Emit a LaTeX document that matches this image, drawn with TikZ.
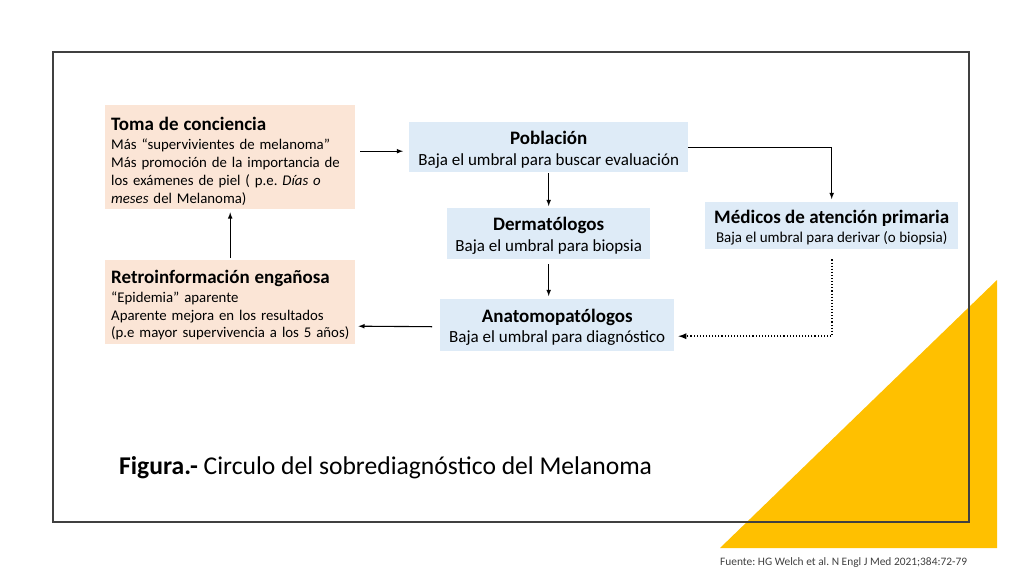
\documentclass[tikz,border=0pt]{standalone}
\usepackage{fontspec}
\setmainfont{Carlito}
\definecolor{peach}{HTML}{FBE5D6}
\definecolor{paleblue}{HTML}{DEEBF7}
\definecolor{gold}{HTML}{FFC000}
\definecolor{framegray}{HTML}{404040}
\newcommand{\tit}[2][18pt]{{\fontsize{19}{21}\selectfont\bfseries\rule{0pt}{#1}#2}}
\frenchspacing

\begin{document}
\begin{tikzpicture}[x=1pt, y=-1pt, >=latex,
	peachbox/.style={fill=peach, anchor=north west, inner xsep=6pt, align=left, font=\fontsize{14.8}{18}\selectfont},
	bluebox/.style={fill=paleblue, anchor=north west, align=center, font=\fontsize{17}{21}\selectfont},
	arr/.style={->, line width=1.1pt}]
		\useasboundingbox (0,0) rectangle (1024,576);
		\fill[gold] (997,280) -- (997,548) -- (720,548) -- cycle;
		\draw[framegray, line width=1.3pt] (53,52) rectangle (969,522);
		% cajas
		\node[peachbox, text width=238, minimum height=104] (toma) at (105,105)
			{\tit[21pt]{Toma de conciencia}\\[1pt]
			M\'as ``supervivientes de melanoma''\\
			M\'as promoci\'on de la importancia de\\
			los ex\'amenes de piel ( p.e. \textit{D\'ias o}\\
			\textit{meses} del Melanoma)};
		\node[peachbox, text width=238, minimum height=84, font=\fontsize{14.8}{17.5}\selectfont] (retro) at (105,260)
			{\tit[19pt]{Retroinformaci\'on enga\~nosa}\\[2pt]
			``Epidemia'' aparente\\
			Aparente mejora en los resultados\\
			(p.e mayor supervivencia a los 5 a\~nos)};
		\node[bluebox, minimum width=279, minimum height=50] (pob) at (409,122)
			{\tit{Poblaci\'on}\\
			Baja el umbral para buscar evaluaci\'on};
		\node[bluebox, minimum width=203, minimum height=51] (derm) at (447,208)
			{\tit{Dermat\'ologos}\\
			Baja el umbral para biopsia};
		\node[bluebox, minimum width=234, minimum height=52, font=\fontsize{17}{20}\selectfont] (anat) at (440,299)
			{\tit{Anatomopat\'ologos}\\
			Baja el umbral para diagn\'ostico};
		\node[bluebox, minimum width=253, minimum height=47, inner ysep=1pt, font=\fontsize{15}{19}\selectfont] (med) at (705,202)
			{\tit{M\'edicos de atenci\'on primaria}\\
			Baja el umbral para derivar (o biopsia)};
		% flechas
		\draw[arr] ([xshift=5pt,yshift=6pt]toma.east) -- ([xshift=-6pt,yshift=-4pt]pob.west);
		\draw[arr] ([yshift=-1pt]pob.south) -- ([yshift=2pt]derm.north);
		\draw[arr] ([yshift=-5pt]derm.south) -- ([yshift=3pt]derm.south |- anat.north);
		\draw[arr] (pob.east) -| ([yshift=3pt]med.north);
		\draw[arr, dotted, line width=1.7pt] ([yshift=-10pt]med.south) |- ([xshift=4pt,yshift=-11pt]anat.east);
		\draw[arr] ([xshift=-8pt,yshift=-1.5pt]anat.west) -- ([xshift=3pt,yshift=-24pt]retro.east);
		\draw[arr] ([yshift=2pt]retro.north) -- ([yshift=-3pt]toma.south);
		% textos
		\node[anchor=base west, inner sep=0pt, font=\fontsize{25.6}{30}\selectfont] (titulo) at (119,474)
			{\textbf{Figura.-} Circulo del sobrediagn\'ostico del Melanoma};
		\node[anchor=base west, inner sep=0pt, text=framegray, font=\fontsize{11.4}{13}\selectfont] (fuente) at (720,565)
			{Fuente: HG Welch et al. N Engl J Med 2021;384:72-79};
	\end{tikzpicture}
\end{document}
